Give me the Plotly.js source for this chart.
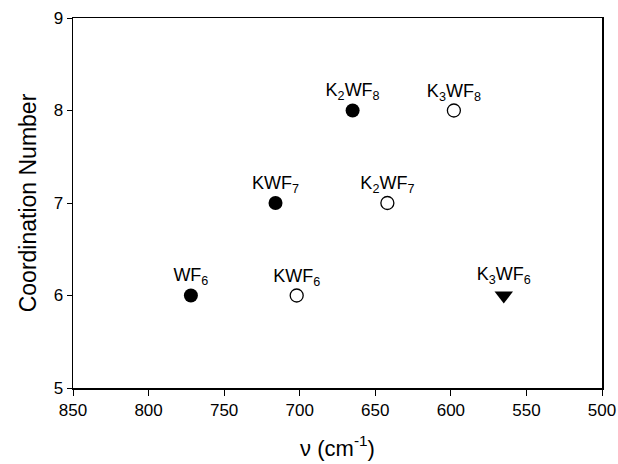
<!DOCTYPE html>
<html>
<head>
<meta charset="utf-8">
<script src="https://cdn.plot.ly/plotly-3.0.1.min.js"></script>
<style>html,body{margin:0;padding:0;background:#fff;}#chart{width:618px;height:464px;}</style>
</head>
<body>
<div id="chart"></div>
<script>
// Data
const filledNames = ["WF<sub>6</sub>", "KWF<sub>7</sub>", "K<sub>2</sub>WF<sub>8</sub>"];
const filledX = [772, 716, 665];
const filledY = [6, 7, 8];

const openNames = ["KWF<sub>6</sub>", "K<sub>2</sub>WF<sub>7</sub>", "K<sub>3</sub>WF<sub>8</sub>"];
const openX = [702, 642, 598];
const openY = [6, 7, 8];

const triNames = ["K<sub>3</sub>WF<sub>6</sub>"];
const triX = [565];
const triY = [6];

const xTicks = [850, 800, 750, 700, 650, 600, 550, 500];
const yTicks = [5, 6, 7, 8, 9];

const font = "Liberation Sans, Arial, sans-serif";
const labelFont = {family: font, size: 18, color: "#000"};

const traces = [
  {x: filledX, y: filledY, text: filledNames, mode: "markers+text", type: "scatter",
   textposition: "top center", textfont: labelFont, cliponaxis: false,
   marker: {symbol: "circle", size: 14, color: "#000"}},
  {x: openX, y: openY, text: openNames, mode: "markers+text", type: "scatter",
   textposition: "top center", textfont: labelFont, cliponaxis: false,
   marker: {symbol: "circle-open", size: 13, color: "#000", line: {width: 1.3, color: "#000"}}},
  {x: triX, y: triY, text: triNames, mode: "markers+text", type: "scatter",
   textposition: "top center", textfont: labelFont, cliponaxis: false,
   marker: {symbol: "triangle-down", size: 16, color: "#000"}}
];

const layout = {
  width: 618, height: 464,
  margin: {l: 73, r: 16, t: 18, b: 76},
  paper_bgcolor: "#fff", plot_bgcolor: "#fff",
  showlegend: false,
  font: {family: font, color: "#000"},
  xaxis: {
    range: [850, 500], tickvals: xTicks, ticktext: xTicks.map(String),
    ticks: "outside", ticklen: 6, tickwidth: 1, tickcolor: "#000",
    showline: true, linecolor: "#000", linewidth: 1.5, mirror: true,
    showgrid: false, zeroline: false,
    tickfont: {family: font, size: 17, color: "#000"},
    title: {text: "\u03bd (cm<sup>-1</sup>)", font: {family: font, size: 22, color: "#000"}, standoff: 21}
  },
  yaxis: {
    range: [5, 9], tickvals: yTicks, ticktext: yTicks.map(String),
    ticks: "outside", ticklen: 5, tickwidth: 1, tickcolor: "#000",
    showline: true, linecolor: "#000", linewidth: 1.5, mirror: true,
    showgrid: false, zeroline: false,
    tickfont: {family: font, size: 17, color: "#000"},
    title: {text: "Coordination Number", font: {family: font, size: 23, color: "#000"}, standoff: 10}
  }
};

Plotly.newPlot("chart", traces, layout, {staticPlot: true});
</script>
</body>
</html>
